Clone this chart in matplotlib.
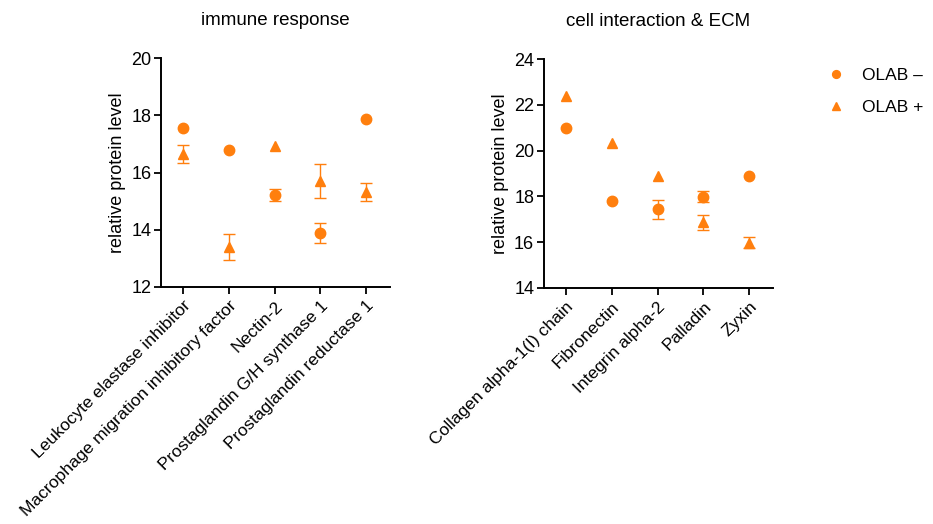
import matplotlib.pyplot as plt
import numpy as np

plt.rcParams['font.family'] = ['Liberation Sans', 'DejaVu Sans']

orange = '#ff7f0e'
nan = np.nan

immune_proteins = ['Leukocyte elastase inhibitor', 'Macrophage migration inhibitory factor',
                   'Nectin-2', 'Prostaglandin G/H synthase 1', 'Prostaglandin reductase 1']
immune_minus = [17.54, 16.77, 15.22, 13.88, 17.86]
immune_minus_err = [nan, nan, 0.2, 0.36, nan]
immune_plus = [16.65, 13.40, 16.93, 15.71, 15.33]
immune_plus_err = [0.32, 0.45, nan, 0.6, 0.31]

ecm_proteins = ['Collagen alpha-1(I) chain', 'Fibronectin', 'Integrin alpha-2', 'Palladin', 'Zyxin']
ecm_minus = [20.98, 17.80, 17.43, 17.99, 18.90]
ecm_minus_err = [nan, nan, 0.4, 0.23, nan]
ecm_plus = [22.37, 20.33, 18.87, 16.86, 15.98]
ecm_plus_err = [nan, nan, nan, 0.34, 0.25]

fig = plt.figure(figsize=(9.33, 5.24), dpi=100)
ax1 = fig.add_axes([0.1726, 0.4523, 0.2455, 0.4370])
ax2 = fig.add_axes([0.583, 0.4504, 0.2455, 0.4370])


def draw_panel(ax, names, m, m_err, p, p_err, ylim, title):
    x = np.arange(len(names))
    ax.errorbar(x, m, yerr=m_err, fmt='o', color=orange, ms=7.5, capsize=4,
                elinewidth=1, capthick=1, label='OLAB \u2013')
    ax.errorbar(x, p, yerr=p_err, fmt='^', color=orange, ms=7.5, capsize=4,
                elinewidth=1, capthick=1, label='OLAB +')
    ax.set_xlim(-0.48, 4.52)
    ax.set_ylim(*ylim)
    ax.set_yticks(np.arange(ylim[0], ylim[1] + 1, 2))
    ax.set_xticks(x)
    ax.set_xticklabels(names, rotation=45, ha='right', rotation_mode='anchor', fontsize=12.6)
    ax.tick_params(axis='y', labelsize=13, width=1.3, length=5, pad=2)
    ax.tick_params(axis='x', width=1.3, length=5, pad=3)
    for s in ['top', 'right']:
        ax.spines[s].set_visible(False)
    for s in ['left', 'bottom']:
        ax.spines[s].set_linewidth(1.4)
    ax.set_ylabel('relative protein level', fontsize=13)
    ax.set_title(title, fontsize=13.5, pad=24)


draw_panel(ax1, immune_proteins, immune_minus, immune_minus_err,
           immune_plus, immune_plus_err, (12, 20), 'immune response')
draw_panel(ax2, ecm_proteins, ecm_minus, ecm_minus_err,
           ecm_plus, ecm_plus_err, (14, 24), 'cell interaction & ECM')

handles, labels = ax2.get_legend_handles_labels()
handles = [h[0] for h in handles]
fig.legend(handles, labels, loc='upper left', bbox_to_anchor=(0.868, 0.9),
           frameon=False, fontsize=12.5, markerscale=0.75, handlelength=1.2,
           labelspacing=0.95, handletextpad=0.9)

fig.savefig('out.png', dpi=100)
